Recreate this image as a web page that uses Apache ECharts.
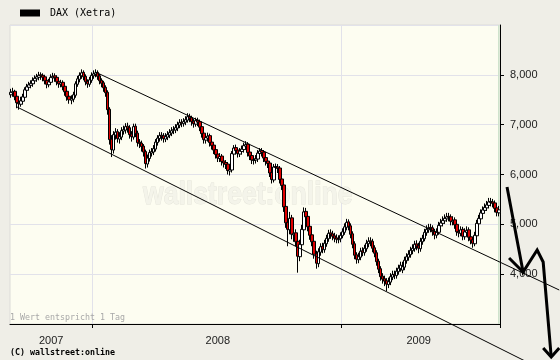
<!DOCTYPE html>
<html><head><meta charset="utf-8">
<script src="https://cdn.jsdelivr.net/npm/echarts/dist/echarts.min.js"></script>
<style>html,body{margin:0;padding:0;background:#efeee7}#c{width:560px;height:360px}</style>
</head><body><div id="c"></div>
<script>
const seriesName = 'DAX (Xetra)';
// one candle per ~2 trading days: [open, close, low, high]
const candles = [
[7600,7650,7540,7720],[7640,7660,7560,7740],[7670,7560,7490,7700],[7570,7440,7330,7600],[7450,7420,7300,7520],
[7410,7480,7360,7560],[7470,7560,7410,7620],[7550,7700,7500,7750],[7690,7760,7640,7820],[7750,7800,7690,7860],
[7790,7830,7730,7890],[7820,7890,7760,7950],[7880,7930,7820,7990],[7920,7960,7860,8020],[7950,7990,7890,8060],
[8000,7980,7900,8050],[7990,7950,7870,8030],[7960,7880,7810,8000],[7890,7810,7730,7930],[7800,7860,7750,7920],
[7850,7950,7800,8010],[7940,7970,7880,8040],[7980,7940,7860,8030],[7950,7860,7790,7990],[7870,7820,7740,7910],
[7810,7840,7750,7900],[7850,7760,7690,7890],[7770,7660,7580,7810],[7670,7560,7480,7710],[7570,7500,7420,7610],
[7490,7520,7410,7590],[7510,7600,7450,7660],[7590,7820,7540,7870],[7810,7920,7760,7980],[7910,7990,7850,8050],
[7980,8040,7920,8110],[8050,7960,7890,8090],[7970,7860,7790,8010],[7870,7820,7740,7910],[7810,7900,7760,7960],
[7890,7990,7840,8050],[7980,8020,7920,8090],[8010,8040,7950,8110],[8050,7970,7900,8090],[7980,7880,7810,8020],
[7890,7830,7750,7930],[7840,7740,7660,7880],[7750,7640,7560,7790],[7650,7300,7200,7690],[7310,6700,6600,7350],
[6710,6500,6350,6790],[6490,6800,6420,6870],[6790,6850,6700,6930],[6860,6720,6640,6910],[6710,6760,6620,6850],
[6750,6880,6690,6950],[6870,6900,6800,6980],[6890,6960,6820,7030],[6970,6930,6840,7040],[6940,6800,6720,6990],
[6810,6760,6660,6870],[6750,6960,6700,7020],[6970,6820,6750,7020],[6830,6640,6560,6880],[6650,6620,6530,6710],
[6630,6560,6460,6680],[6570,6450,6360,6610],[6460,6220,6120,6500],[6210,6330,6140,6400],[6320,6440,6260,6500],
[6430,6460,6360,6530],[6450,6520,6390,6590],[6510,6650,6460,6710],[6640,6730,6580,6790],[6720,6780,6660,6850],
[6790,6770,6680,6850],[6780,6720,6640,6830],[6710,6760,6650,6830],[6750,6800,6690,6870],[6790,6840,6730,6910],
[6830,6880,6770,6950],[6890,6900,6810,6970],[6890,6940,6830,7010],[6930,7000,6870,7060],[6990,7040,6930,7110],
[7050,7030,6950,7110],[7020,7060,6960,7130],[7050,7100,6990,7170],[7090,7160,7040,7230],[7170,7130,7050,7220],
[7140,7060,6980,7180],[7070,7020,6940,7120],[7010,7080,6960,7140],[7090,7050,6970,7140],[7060,6950,6870,7100],
[6960,6820,6740,7000],[6830,6700,6620,6870],[6690,6740,6620,6810],[6730,6770,6660,6840],[6780,6640,6560,6820],
[6650,6580,6500,6700],[6590,6490,6410,6630],[6500,6400,6320,6540],[6410,6330,6250,6450],[6320,6360,6250,6430],
[6370,6260,6180,6410],[6270,6230,6140,6320],[6240,6200,6110,6290],[6210,6080,6000,6250],[6070,6100,5980,6170],
[6090,6420,6040,6470],[6410,6530,6350,6590],[6540,6480,6400,6600],[6490,6420,6340,6530],[6410,6470,6350,6530],
[6460,6510,6400,6580],[6500,6580,6440,6640],[6570,6600,6500,6670],[6610,6440,6360,6650],[6450,6370,6290,6490],
[6380,6290,6210,6420],[6280,6300,6200,6370],[6290,6320,6220,6390],[6310,6430,6250,6490],[6420,6470,6360,6530],
[6480,6440,6360,6530],[6450,6330,6250,6490],[6340,6260,6180,6380],[6270,6220,6130,6320],[6230,6030,5950,6270],
[6040,5900,5820,6080],[5890,6150,5840,6210],[6160,6140,6050,6220],[6150,6120,6030,6210],[6130,5900,5820,6170],
[5910,5780,5690,5950],[5790,5350,5250,5830],[5360,5030,4930,5420],[5040,4900,4560,5120],[4890,5120,4800,5250],
[5130,4800,4700,5190],[4790,4820,4650,4950],[4830,4650,4560,4900],[4660,4360,4030,4720],[4350,4600,4260,4690],
[4590,4900,4520,4990],[4890,5250,4830,5340],[5260,5150,5040,5330],[5160,4950,4860,5220],[4960,4780,4690,5020],
[4790,4650,4560,4840],[4660,4400,4310,4720],[4410,4220,4110,4470],[4210,4450,4140,4520],[4440,4550,4370,4620],
[4560,4500,4420,4630],[4490,4620,4430,4690],[4610,4720,4550,4790],[4710,4820,4650,4890],[4830,4800,4710,4900],
[4810,4760,4680,4870],[4770,4720,4640,4830],[4730,4700,4620,4800],[4690,4700,4620,4780],[4710,4780,4640,4840],
[4770,4850,4720,4920],[4840,4950,4790,5020],[4940,5040,4880,5110],[5050,4960,4880,5100],[4970,4800,4720,5020],
[4810,4600,4520,4860],[4610,4380,4300,4660],[4390,4300,4210,4440],[4290,4350,4220,4430],[4340,4460,4280,4530],
[4470,4440,4360,4540],[4430,4520,4370,4590],[4510,4620,4450,4690],[4610,4660,4540,4740],[4670,4650,4560,4740],
[4660,4520,4440,4710],[4530,4420,4340,4580],[4430,4250,4170,4480],[4260,4100,4020,4310],[4110,3950,3870,4160],
[3960,3900,3810,4020],[3910,3860,3760,3970],[3870,3800,3660,3920],[3790,3850,3720,3930],[3840,3950,3780,4020],
[3940,3990,3880,4070],[4000,3980,3900,4070],[3970,4060,3910,4130],[4050,4120,3990,4190],[4110,4180,4050,4250],
[4080,4150,4020,4250],[4140,4280,4080,4350],[4270,4350,4210,4420],[4340,4400,4270,4480],[4390,4480,4330,4550],
[4470,4520,4400,4600],[4510,4600,4450,4670],[4610,4560,4480,4680],[4570,4520,4420,4630],[4510,4660,4450,4730],
[4650,4720,4590,4790],[4710,4840,4660,4910],[4830,4900,4770,4980],[4890,4930,4830,5010],[4940,4920,4840,5010],
[4930,4850,4770,4980],[4860,4790,4700,4910],[4780,4850,4720,4920],[4840,4980,4790,5050],[4970,5030,4910,5110],
[5020,5080,4960,5160],[5070,5120,5010,5200],[5110,5150,5050,5230],[5160,5140,5060,5230],[5150,5060,4980,5200],
[5050,5080,4980,5160],[5090,4990,4910,5140],[5000,4850,4770,5050],[4860,4830,4740,4920],[4820,4890,4760,4960],
[4900,4760,4680,4950],[4750,4850,4690,4920],[4840,4880,4780,4960],[4890,4740,4660,4940],[4750,4680,4600,4800],
[4690,4620,4530,4740],[4610,4780,4560,4850],[4770,5020,4720,5090],[5010,5120,4950,5190],[5110,5230,5050,5300],
[5220,5290,5160,5360],[5280,5340,5220,5420],[5330,5390,5270,5470],[5380,5450,5320,5530],[5460,5440,5360,5530],
[5450,5420,5340,5510],[5430,5320,5240,5480],[5330,5240,5160,5380],[5230,5290,5160,5370]
];
const categories = candles.map((_, i) => String(i));
const yearLabels = ['2007', '2008', '2009'];
const yearLabelIndex = [20, 103, 203];
const yearStartIndex = [41, 165];
const yMin = 3000, yMax = 9000, yStep = 1000;
// hand-drawn annotations, in [candle index, index points]
const upperTrend = [[42, 8057], [273, 3682]];
const lowerTrend = [[3, 7355], [256, 2257]];
const arrowPath = [[247, 5749], [255, 4043], [262, 4485], [265, 4244], [269, 2338]];
const arrowHead1 = [[248, 4324], [255, 4043]];
const arrowHead2 = [[265, 2518], [269, 2338], [273, 2518]];
const noteText = '1 Wert entspricht 1 Tag';
const copyText = '(C) wallstreet:online';
const watermark = 'wallstreet:online';

const chart = echarts.init(document.getElementById('c'), null, {renderer: 'canvas'});
const baseGraphic = [
  {type: 'text', x: 143, y: 195, scaleX: 0.83, z: 1, silent: true,
    style: {text: watermark, x: 0, y: 0, font: 'bold 32px "Liberation Sans"', fill: '#f4f4ea',
      stroke: '#e4e4da', lineWidth: 1, verticalAlign: 'middle', align: 'left'}},
  {type: 'rect', shape: {x: 498, y: 25, width: 1.5, height: 299}, z: 1, silent: true,
    style: {fill: '#cfe3cc'}},
  {type: 'text', x: 10, y: 318, z: 3, silent: true,
    style: {text: noteText, font: '8.3px "DejaVu Sans Mono"', fill: '#a8a8a8', verticalAlign: 'middle'}},
  {type: 'text', x: 10, y: 353, z: 3, silent: true,
    style: {text: copyText, font: 'bold 8.3px "DejaVu Sans Mono"', fill: '#000', verticalAlign: 'middle'}}
];
chart.setOption({
  animation: false,
  backgroundColor: '#efeee7',
  legend: {
    data: [{name: seriesName, icon: 'rect', itemStyle: {color: '#000', borderWidth: 0}}],
    left: 20, top: 8, padding: 0, itemWidth: 20, itemHeight: 7, selectedMode: false,
    textStyle: {fontFamily: 'DejaVu Sans Mono', fontSize: 10, color: '#000', padding: [0, 0, 0, 5]}
  },
  grid: {left: 10, top: 25, width: 490, height: 299, show: true, backgroundColor: '#fdfdf1',
    borderColor: '#dcdcd8', borderWidth: 1, containLabel: false, outerBoundsMode: 'none'},
  xAxis: {
    type: 'category', data: categories, boundaryGap: true, min: 0, max: candles.length - 1,
    axisLine: {lineStyle: {color: '#000', width: 1}},
    axisTick: {show: true, length: 4, lineStyle: {color: '#000'},
      interval: (index) => yearStartIndex.includes(index)},
    splitLine: {show: true, lineStyle: {color: '#e2e2ea'},
      interval: (index) => yearStartIndex.includes(index)},
    axisLabel: {margin: 11, fontSize: 11, color: '#222', fontFamily: 'Liberation Sans',
      interval: (index) => yearLabelIndex.includes(index),
      formatter: (value, index) => { const k = yearLabelIndex.indexOf(index); return k >= 0 ? yearLabels[k] : ''; }}
  },
  yAxis: {
    type: 'value', position: 'right', min: yMin, max: yMax, interval: yStep,
    axisLine: {show: true, lineStyle: {color: '#000', width: 1}},
    axisTick: {show: true, length: 4, lineStyle: {color: '#000'}},
    axisLabel: {margin: 10, fontSize: 11, color: '#222', fontFamily: 'Liberation Sans',
      showMinLabel: false, showMaxLabel: false},
    splitLine: {show: true, lineStyle: {color: '#e2e2ea'}}
  },
  graphic: baseGraphic,
  series: [
    {type: 'candlestick', name: seriesName, data: candles, barWidth: 3, z: 3,
      itemStyle: {color: '#ffffff', color0: '#e00000', borderColor: '#000', borderColor0: '#000', borderWidth: 1}}
  ]
});

// Annotation lines (trend channel and arrows) extend past the plot area:
// map their [index, value] points through the chart's own axes (linear extension).
const n = candles.length;
const pA = chart.convertToPixel({gridIndex: 0}, [0, yMin]);
const pB = chart.convertToPixel({gridIndex: 0}, [n - 1, yMax]);
function toPx(pt) {
  const x = pA[0] + (pB[0] - pA[0]) * pt[0] / (n - 1);
  const y = pA[1] + (pB[1] - pA[1]) * (pt[1] - yMin) / (yMax - yMin);
  return [x, y];
}
function poly(points, width) {
  return {type: 'polyline', z: 5, silent: true, shape: {points: points.map(toPx)},
    style: {stroke: '#000', lineWidth: width, fill: null, lineJoin: 'miter'}};
}
chart.setOption({
  graphic: baseGraphic.concat([
    poly(upperTrend, 1), poly(lowerTrend, 1),
    poly(arrowPath, 3), poly(arrowHead1, 3), poly(arrowHead2, 3)
  ])
});
</script></body></html>
